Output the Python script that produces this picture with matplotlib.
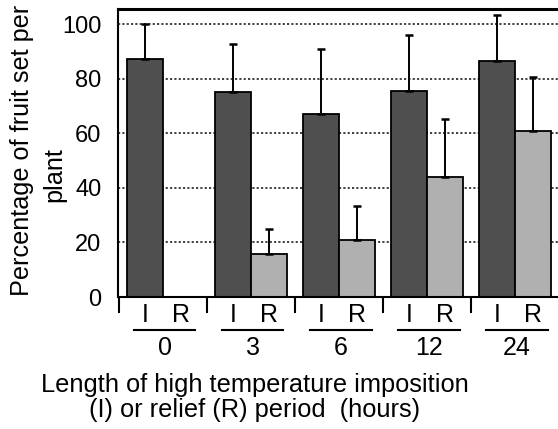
import matplotlib
matplotlib.use("Agg")
import matplotlib.pyplot as plt
import numpy as np

plt.rcParams['font.family'] = ['Liberation Sans', 'DejaVu Sans']

groups = ["0", "3", "6", "12", "24"]
imposition = [87.2, 75.2, 67.0, 75.6, 86.4]
imposition_err = [13.0, 17.7, 24.0, 20.6, 17.1]
relief = [0.0, 15.7, 20.9, 44.1, 60.9]
relief_err = [0.0, 9.2, 12.5, 21.3, 19.8]
yticks = [0, 20, 40, 60, 80, 100]

W, H = 558, 429
fig = plt.figure(figsize=(W / 100, H / 100), dpi=100)
ax = fig.add_axes([118 / W, 132 / H, 441 / W, 288 / H])

x = np.arange(len(groups))
bw = 0.41
ax.set_axisbelow(True)
ax.yaxis.grid(True, linestyle=(0, (1.2, 1.2)), color='#333333', linewidth=1.3)
ekw = dict(ecolor='black', elinewidth=1.4, capsize=3, capthick=1.8)
ax.bar(x - bw / 2, imposition, bw, color='#4f4f4f', edgecolor='black', linewidth=1.3,
       yerr=[np.zeros(len(x)), imposition_err], error_kw=ekw)
ax.bar(x + bw / 2, relief, bw, color='#b0b0b0', edgecolor='black', linewidth=1.3,
       yerr=[np.zeros(len(x)), relief_err], error_kw=ekw)

ax.set_xlim(-0.51, 4.5)
ax.set_ylim(0, 105.6)
ax.set_yticks(yticks)
ax.set_yticklabels([str(v) for v in yticks], fontsize=17)
ax.tick_params(axis='y', length=0, pad=12)

ax.spines['right'].set_visible(False)
ax.spines['top'].set_linewidth(2.2)
ax.spines['left'].set_linewidth(1.5)
ax.spines['bottom'].set_linewidth(1.5)

# I / R labels as major ticks
pos = np.concatenate([x - bw / 2, x + bw / 2])
labs = ["I"] * len(x) + ["R"] * len(x)
ax.set_xticks(pos)
ax.set_xticklabels(labs, fontsize=18)
ax.tick_params(axis='x', which='major', length=0, pad=4)
# separators as minor ticks
ax.set_xticks(np.arange(len(groups)) - 0.5, minor=True)
ax.tick_params(axis='x', which='minor', length=11.5, width=1.5, direction='out')

# group underlines and labels
for i, g in enumerate(groups):
    ax.plot([i - 0.33, i + 0.37], [-33 / 288, -33 / 288], transform=ax.get_xaxis_transform(),
            color='black', linewidth=1.5, clip_on=False)
    ax.text(i + 0.02, -51 / 288, g, transform=ax.get_xaxis_transform(),
            ha='center', va='center', fontsize=18)

fig.text(255 / W, 1 - 385 / H, "Length of high temperature imposition", ha='center', va='center', fontsize=18.3)
fig.text(255 / W, 1 - 410 / H, "(I) or relief (R) period  (hours)", ha='center', va='center', fontsize=18.3)
fig.text(22 / W, 1 - 150 / H, "Percentage of fruit set per", rotation=90, ha='center', va='center', fontsize=18.2)
fig.text(54 / W, 1 - 175 / H, "plant", rotation=90, ha='center', va='center', fontsize=18.2)

fig.savefig("out.png", dpi=100)
